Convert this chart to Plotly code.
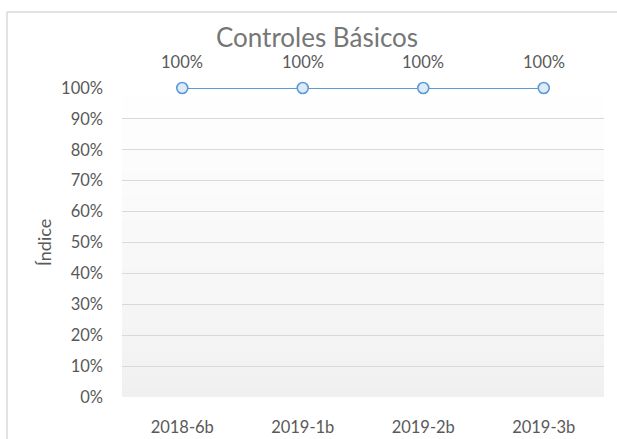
import plotly.graph_objects as go

categories = ["2018-6b", "2019-1b", "2019-2b", "2019-3b"]
indice = [1.0, 1.0, 1.0, 1.0]
y_ticks = [i / 10 for i in range(11)]
y_tick_labels = [f"{i * 10}%" for i in range(11)]

FONT = "Lato"
TXT = "#595959"
W, H = 617, 439
ML, MR, MT, MB = 122, 13, 88, 42
TICK_SIZE = 16.5

fig = go.Figure()
fig.add_trace(go.Scatter(
    x=categories, y=indice, mode="lines+markers",
    line=dict(color="#5b9bd5", width=2.2),
    marker=dict(symbol="circle", size=11, color="#deebf7",
                line=dict(color="#5b9bd5", width=1.6)),
    cliponaxis=False, showlegend=False, hoverinfo="skip",
))

# data labels
for c, v in zip(categories, indice):
    fig.add_annotation(x=c, y=v, text=f"{v * 100:.0f}%", showarrow=False,
                       yshift=26, font=dict(family=FONT, size=TICK_SIZE, color=TXT))

# gradient plot background
shapes = []
n = 40
for i in range(n):
    t = i / n
    c0 = (240, 240, 240)
    col = tuple(int(round(c0[k] + (255 - c0[k]) * (t ** 0.8))) for k in range(3))
    shapes.append(dict(type="rect", xref="paper", yref="y", x0=0, x1=1,
                       y0=t, y1=t + 1 / n + 0.001, layer="below",
                       fillcolor=f"rgb{col}", line=dict(width=0)))

# chart frame
pw, ph = W - ML - MR, H - MT - MB
def px_x(px):
    return (px - ML) / pw
def px_y(py):
    return (H - MB - py) / ph
shapes.append(dict(type="line", xref="paper", yref="paper", x0=px_x(7), x1=px_x(640),
                   y0=px_y(12), y1=px_y(12), line=dict(color="#d9d9d9", width=1.5)))
shapes.append(dict(type="line", xref="paper", yref="paper", x0=px_x(7), x1=px_x(7),
                   y0=px_y(12), y1=px_y(460), line=dict(color="#d9d9d9", width=1.5)))

fig.update_layout(
    width=W, height=H,
    margin=dict(l=ML, r=MR, t=MT, b=MB, autoexpand=False),
    paper_bgcolor="white", plot_bgcolor="white",
    shapes=shapes,
    title=dict(text="Controles Básicos", x=317 / W, xanchor="center",
               y=1 - 38 / H, yanchor="middle",
               font=dict(family=FONT, size=26, color="#767676")),
    font=dict(family=FONT, color=TXT, size=TICK_SIZE),
    xaxis=dict(type="category", range=[-0.5, len(categories) - 0.5],
               showgrid=False, zeroline=False, showline=False,
               ticks="", ticklabelstandoff=18, automargin=False,
               tickfont=dict(family=FONT, size=TICK_SIZE, color=TXT)),
    yaxis=dict(range=[0, 1], tickvals=y_ticks, ticktext=y_tick_labels,
               showgrid=True, gridcolor="#d9d9d9", gridwidth=1.3,
               zeroline=False, showline=False, ticks="", ticklabelstandoff=18,
               automargin=False,
               tickfont=dict(family=FONT, size=TICK_SIZE, color=TXT),
               title=dict(text="Índice", standoff=4,
                          font=dict(family=FONT, size=18, color=TXT))),
)

fig.write_html("out.html", config={"displayModeBar": False},
               post_script="document.body.style.margin='0';")
